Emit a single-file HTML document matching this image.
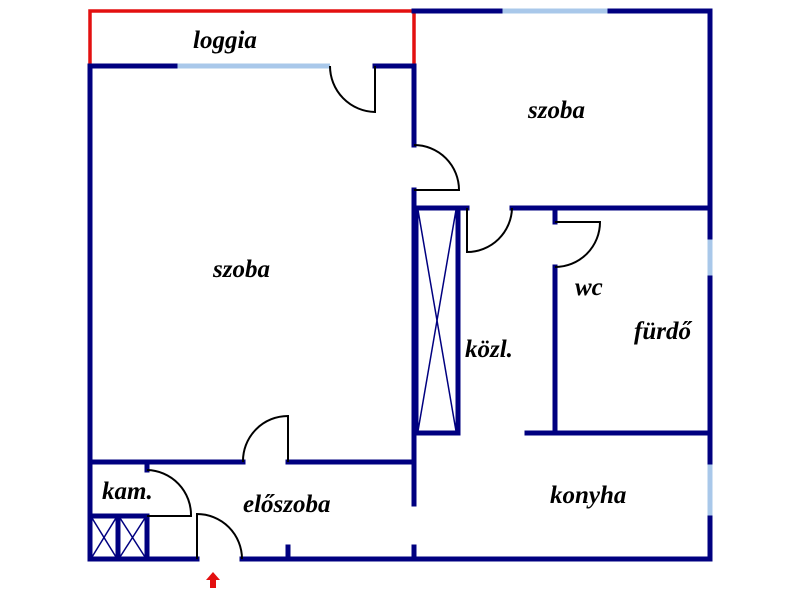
<!DOCTYPE html>
<html><head><style>body{margin:0;background:#fff}svg{display:block}text{font-family:"Liberation Serif",serif;font-style:italic;font-weight:bold;font-size:25px;fill:#000}</style></head>
<body>
<svg width="800" height="600" xmlns="http://www.w3.org/2000/svg">
<g stroke="#e31010" stroke-width="3.5" fill="none">
<polyline points="90,66 90,11 414,11 414,66"/>
</g>
<g stroke="#a9c8ea" stroke-width="5" fill="none">
<line x1="175" y1="66" x2="330" y2="66"/>
<line x1="500" y1="11" x2="610" y2="11"/>
<line x1="710" y1="237" x2="710" y2="278"/>
<line x1="710" y1="462" x2="710" y2="518"/>
</g>
<g stroke="#000080" stroke-width="5" fill="none" stroke-linecap="square">
<line x1="414" y1="11" x2="500" y2="11"/>
<line x1="610" y1="11" x2="710" y2="11"/>
<line x1="710" y1="11" x2="710" y2="237"/>
<line x1="710" y1="278" x2="710" y2="462"/>
<line x1="710" y1="518" x2="710" y2="559"/>
<line x1="90" y1="66" x2="175" y2="66"/>
<line x1="375" y1="66" x2="414" y2="66"/>
<line x1="90" y1="66" x2="90" y2="559"/>
<line x1="414" y1="66" x2="414" y2="145"/>
<line x1="414" y1="190" x2="414" y2="504"/>
<line x1="414" y1="547" x2="414" y2="559"/>
<line x1="288" y1="547" x2="288" y2="559"/>
<rect x="416" y="208" width="42" height="225"/>
<line x1="414" y1="208" x2="467" y2="208"/>
<line x1="512" y1="208" x2="710" y2="208"/>
<line x1="555" y1="208" x2="555" y2="222"/>
<line x1="555" y1="267" x2="555" y2="433"/>
<line x1="527" y1="433" x2="710" y2="433"/>
<line x1="90" y1="462" x2="243" y2="462"/>
<line x1="288" y1="462" x2="414" y2="462"/>
<line x1="147" y1="462" x2="147" y2="470"/>
<line x1="147" y1="516" x2="147" y2="559"/>
<line x1="90" y1="516" x2="147" y2="516"/>
<line x1="118" y1="516" x2="118" y2="559"/>
<line x1="90" y1="559" x2="197" y2="559"/>
<line x1="242" y1="559" x2="710" y2="559"/>
</g>
<g stroke="#000080" stroke-width="1.5">
<line x1="418" y1="210" x2="456" y2="431"/>
<line x1="456" y1="210" x2="418" y2="431"/>
<line x1="92" y1="518" x2="116" y2="557"/>
<line x1="116" y1="518" x2="92" y2="557"/>
<line x1="120" y1="518" x2="145" y2="557"/>
<line x1="145" y1="518" x2="120" y2="557"/>
</g>
<g stroke="#000" stroke-width="2" fill="none">
<path d="M375,66 L375,112 A46,46 0 0 1 330,66"/>
<path d="M414,145 A45,45 0 0 1 459,190 L414,190"/>
<path d="M467,208 L467,252 A45,45 0 0 0 512,208"/>
<path d="M555,222 L600,222 A45,45 0 0 1 555,267"/>
<path d="M288,462 L288,416 A45,45 0 0 0 243,462"/>
<path d="M147,470 A45,45 0 0 1 191,516 L147,516"/>
<path d="M197,559 L197,514 A45,45 0 0 1 242,559"/>
</g>
<path d="M213,572 L220,580 L216,580 L216,588 L210,588 L210,580 L206,580 Z" fill="#e31010"/>
<text x="193" y="48">loggia</text>
<text x="528" y="118">szoba</text>
<text x="213" y="277">szoba</text>
<text x="575" y="295">wc</text>
<text x="634" y="339">fürdő</text>
<text x="465" y="357">közl.</text>
<text x="102" y="499">kam.</text>
<text x="243" y="512">előszoba</text>
<text x="550" y="503">konyha</text>
</svg>
</body></html>
